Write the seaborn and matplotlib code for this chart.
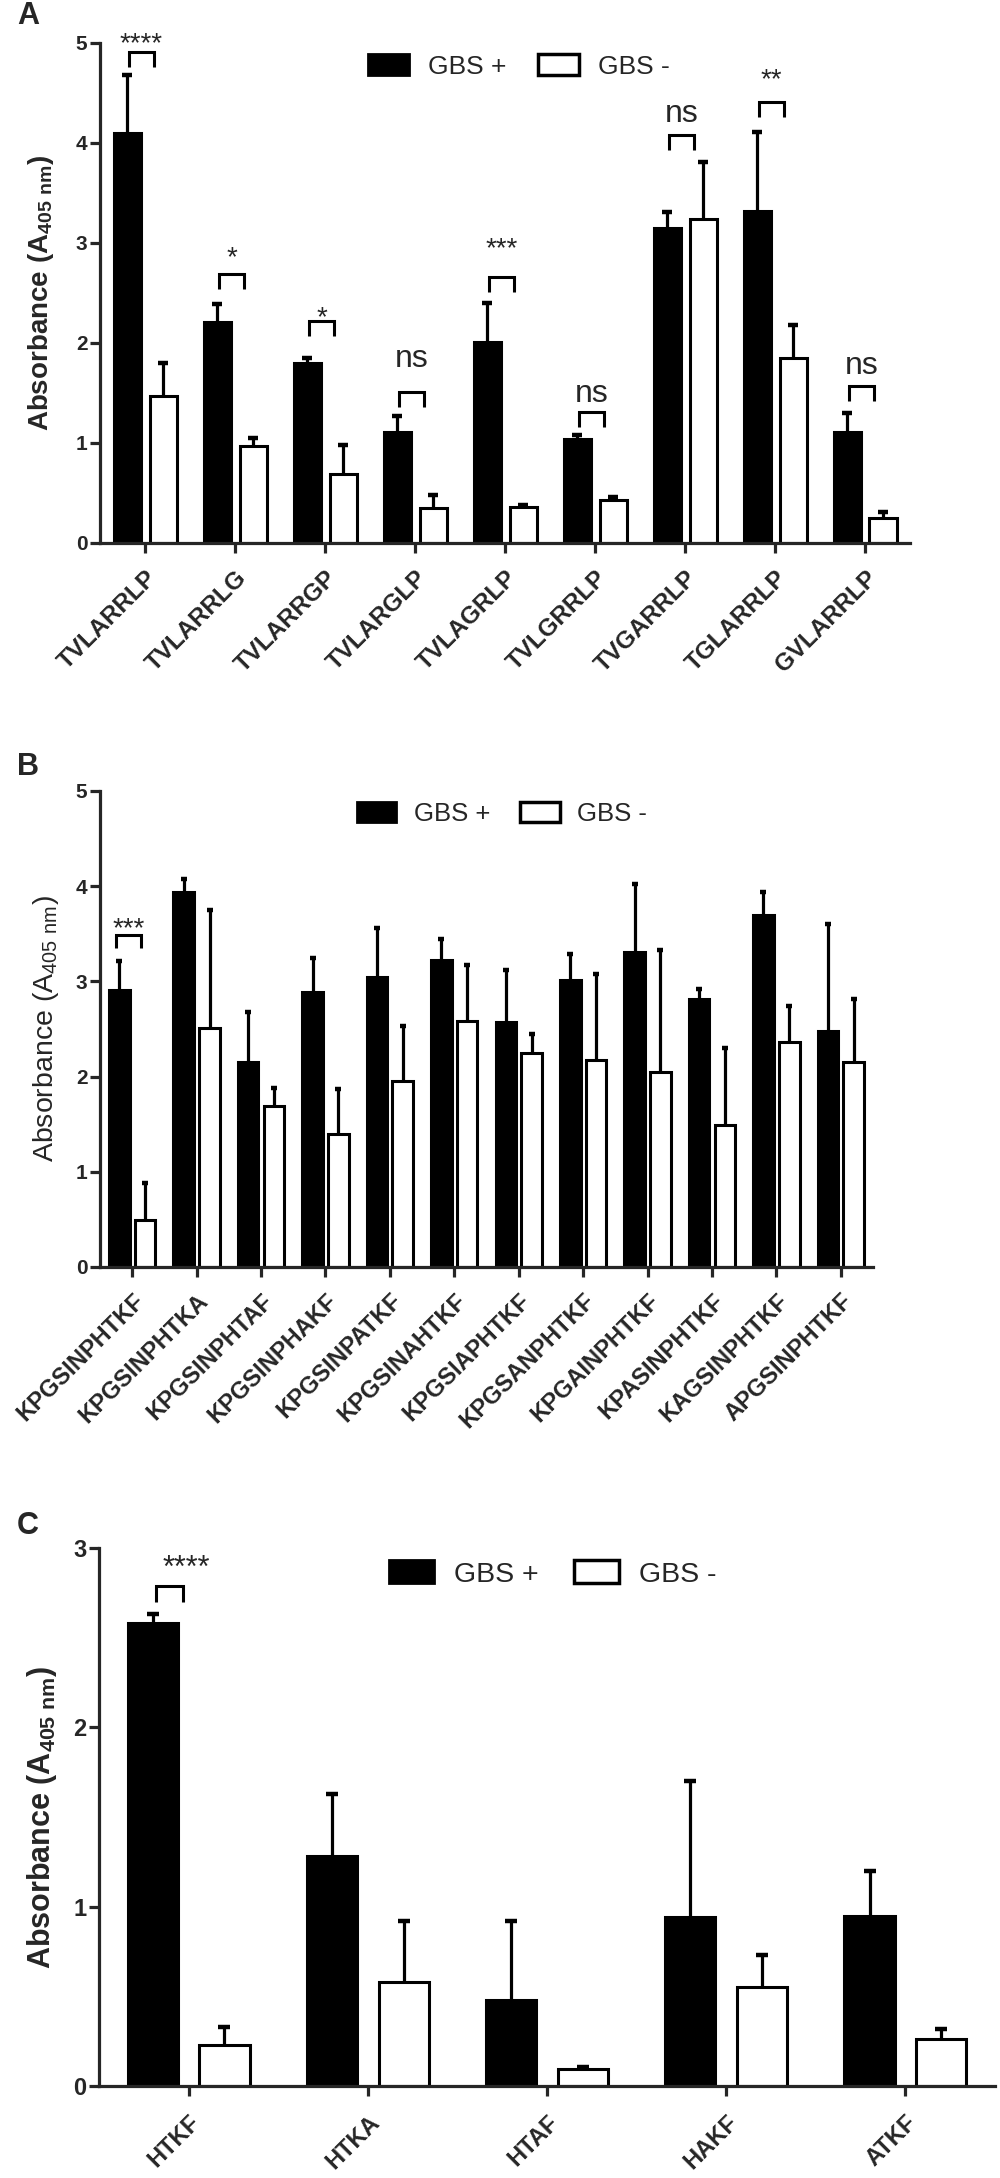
import numpy as np
import pandas as pd
import matplotlib
matplotlib.use("Agg")
import matplotlib.pyplot as plt
import seaborn as sns
from matplotlib.patches import Patch

# ---------------- data ----------------
peptides_a = ["TVLARRLP", "TVLARRLG", "TVLARRGP", "TVLARGLP", "TVLAGRLP",
              "TVLGRRLP", "TVGARRLP", "TGLARRLP", "GVLARRLP"]
a_pos_mean = [4.10, 2.21, 1.80, 1.11, 2.01, 1.04, 3.15, 3.32, 1.11]
a_pos_sd = [0.58, 0.18, 0.05, 0.16, 0.39, 0.04, 0.16, 0.79, 0.19]
a_neg_mean = [1.47, 0.97, 0.69, 0.35, 0.36, 0.43, 3.24, 1.85, 0.25]
a_neg_sd = [0.33, 0.08, 0.29, 0.13, 0.02, 0.03, 0.57, 0.33, 0.06]
a_sig = ["****", "*", "*", "ns", "***", "ns", "ns", "**", "ns"]

peptides_b = ["KPGSINPHTKF", "KPGSINPHTKA", "KPGSINPHTAF", "KPGSINPHAKF",
              "KPGSINPATKF", "KPGSINAHTKF", "KPGSIAPHTKF", "KPGSANPHTKF",
              "KPGAINPHTKF", "KPASINPHTKF", "KAGSINPHTKF", "APGSINPHTKF"]
b_pos_mean = [2.91, 3.94, 2.15, 2.89, 3.05, 3.22, 2.57, 3.01, 3.31, 2.81, 3.70, 2.48]
b_pos_sd = [0.30, 0.14, 0.53, 0.36, 0.51, 0.23, 0.55, 0.28, 0.71, 0.11, 0.24, 1.12]
b_neg_mean = [0.49, 2.51, 1.69, 1.40, 1.95, 2.58, 2.25, 2.17, 2.05, 1.49, 2.36, 2.15]
b_neg_sd = [0.39, 1.24, 0.19, 0.47, 0.58, 0.59, 0.20, 0.91, 1.28, 0.81, 0.38, 0.66]
b_sig = ["***", "", "", "", "", "", "", "", "", "", "", ""]

peptides_c = ["HTKF", "HTKA", "HTAF", "HAKF", "ATKF"]
c_pos_mean = [2.58, 1.28, 0.48, 0.94, 0.95]
c_pos_sd = [0.05, 0.35, 0.44, 0.76, 0.25]
c_neg_mean = [0.23, 0.58, 0.095, 0.55, 0.26]
c_neg_sd = [0.10, 0.34, 0.01, 0.18, 0.06]
c_sig = ["****", "", "", "", ""]

groups = ["GBS +", "GBS -"]

# ---------------- layout (annotation placement) ----------------
a_bracket_top = [4.91, 2.69, 2.22, 1.51, 2.66, 1.31, 4.08, 4.41, 1.57]
a_text_base = [4.92, 2.78, 2.18, 1.76, 2.87, 1.41, 4.21, 4.56, 1.685]
b_bracket_top = [3.49]
b_text_base = [3.48]
c_bracket_top = [2.79]
c_text_base = [2.84]

sns.set_style("ticks")
plt.rcParams["font.family"] = ["Liberation Sans", "DejaVu Sans"]
plt.rcParams["mathtext.default"] = "regular"

fig = plt.figure(figsize=(10, 21.78), dpi=100)
H = 2178.0
W = 1000.0


def px_axes(left, right, top, bottom):
    return fig.add_axes([left / W, 1 - bottom / H, (right - left) / W, (bottom - top) / H])


ax_a = px_axes(100, 910, 43, 543)
ax_b = px_axes(100, 873, 791, 1267)
ax_c = px_axes(99, 995, 1548, 2086)


def draw_panel(ax, cats, pm, psd, nm, nsd, gap, capsize, ymax, xtick_fs, ytick_fs,
               label_fs, label_bold, label_x, xlabel_pad, leg_fs, leg_len, leg_h,
               leg_pad, leg_col, leg_anchor):
    df = pd.DataFrame({
        "peptide": list(cats) * 2,
        "group": [groups[0]] * len(cats) + [groups[1]] * len(cats),
        "absorbance": list(pm) + list(nm),
    })
    sns.barplot(data=df, x="peptide", y="absorbance", hue="group", hue_order=groups,
                palette={groups[0]: "black", groups[1]: "white"}, edgecolor="black",
                linewidth=2.2, errorbar=None, width=0.8, gap=gap, legend=False,
                saturation=1, ax=ax)
    for cont, sds in zip(ax.containers, [psd, nsd]):
        xs = np.array([p.get_x() + p.get_width() / 2 for p in cont.patches])
        hs = np.array([p.get_height() for p in cont.patches])
        sds = np.asarray(sds)
        ax.errorbar(xs, hs, yerr=[np.zeros(len(sds)), sds], fmt="none", ecolor="black",
                    elinewidth=2.3, capsize=0, zorder=0.9)
        ax.plot(xs, hs + sds, ls="none", marker="_", ms=capsize, mew=3.2,
                color="black", zorder=0.9)
    ax.set_xlim(-0.5, len(cats) - 0.5)
    ax.set_ylim(0, ymax)
    ax.set_yticks(range(0, ymax + 1))
    ax.set_xlabel("")
    ax.set_ylabel("Absorbance (A$_{405\\ nm}$)", fontsize=label_fs,
                  fontweight="bold" if label_bold else "normal")
    ax.yaxis.set_label_coords(label_x, 0.5)
    sns.despine(ax=ax)
    for s in ["left", "bottom"]:
        ax.spines[s].set_linewidth(2.3)
    ax.tick_params(axis="both", width=2.3, length=7, direction="out")
    ax.tick_params(axis="y", labelsize=ytick_fs, pad=2)
    ax.tick_params(axis="x", pad=xlabel_pad)
    ax.set_xticks(range(len(cats)))
    ax.set_xticklabels(cats, rotation=45, ha="right", va="top", rotation_mode="anchor",
                       fontweight="bold", fontsize=xtick_fs)
    for t in ax.get_yticklabels():
        t.set_fontweight("bold")
    ax.legend(handles=[Patch(facecolor="black", edgecolor="black", lw=2, label=groups[0]),
                       Patch(facecolor="white", edgecolor="black", lw=2.5, label=groups[1])],
              ncol=2, frameon=False, loc="center left", bbox_to_anchor=leg_anchor,
              borderaxespad=0, borderpad=0, handlelength=leg_len, handleheight=leg_h,
              handletextpad=leg_pad, columnspacing=leg_col, fontsize=leg_fs)


def annotate(ax, sig, tops, bases, x0, x1, leg, star_fs, ns_fs, text_dx=0.0):
    k = 0
    for i, s in enumerate(sig):
        if not s:
            continue
        top = tops[k]
        base = bases[k]
        k += 1
        ax.plot([i + x0, i + x0, i + x1, i + x1], [top - leg, top, top, top - leg],
                color="black", lw=2.2, solid_capstyle="butt", solid_joinstyle="miter",
                clip_on=False)
        ax.text(i + (x0 + x1) / 2 + text_dx, base, s, ha="center", va="baseline",
                fontsize=ns_fs if s == "ns" else star_fs, clip_on=False)


draw_panel(ax_a, peptides_a, a_pos_mean, a_pos_sd, a_neg_mean, a_neg_sd, gap=0.25,
           capsize=7, ymax=5, xtick_fs=17.5, ytick_fs=15, label_fs=20, label_bold=True,
           label_x=-0.054, xlabel_pad=10, leg_fs=19, leg_len=1.55, leg_h=0.8,
           leg_pad=0.72, leg_col=1.2, leg_anchor=(0.331, 0.953))
annotate(ax_a, a_sig, a_bracket_top, a_text_base, -0.18, 0.10, 0.15, 20, 23)

draw_panel(ax_b, peptides_b, b_pos_mean, b_pos_sd, b_neg_mean, b_neg_sd, gap=0.2,
           capsize=5, ymax=5, xtick_fs=17, ytick_fs=15, label_fs=20.5, label_bold=False,
           label_x=-0.050, xlabel_pad=9, leg_fs=18.5, leg_len=1.55, leg_h=0.82,
           leg_pad=0.68, leg_col=1.15, leg_anchor=(0.332, 0.951))
annotate(ax_b, b_sig, b_bracket_top, b_text_base, -0.25, 0.14, 0.14, 20, 23)

draw_panel(ax_c, peptides_c, c_pos_mean, c_pos_sd, c_neg_mean, c_neg_sd, gap=0.3,
           capsize=9, ymax=3, xtick_fs=17, ytick_fs=17, label_fs=22, label_bold=True,
           label_x=-0.045, xlabel_pad=11, leg_fs=20.5, leg_len=1.58, leg_h=0.88,
           leg_pad=0.7, leg_col=1.23, leg_anchor=(0.324, 0.952))
annotate(ax_c, c_sig, c_bracket_top, c_text_base, -0.18, -0.03, 0.09, 22, 23, text_dx=0.09)

for letter, ytop in [("A", 1), ("B", 752), ("C", 1511)]:
    fig.text(17 / W, 1 - ytop / H, letter, fontsize=22, fontweight="bold",
             ha="left", va="top")

fig.savefig("out.png", dpi=100)
